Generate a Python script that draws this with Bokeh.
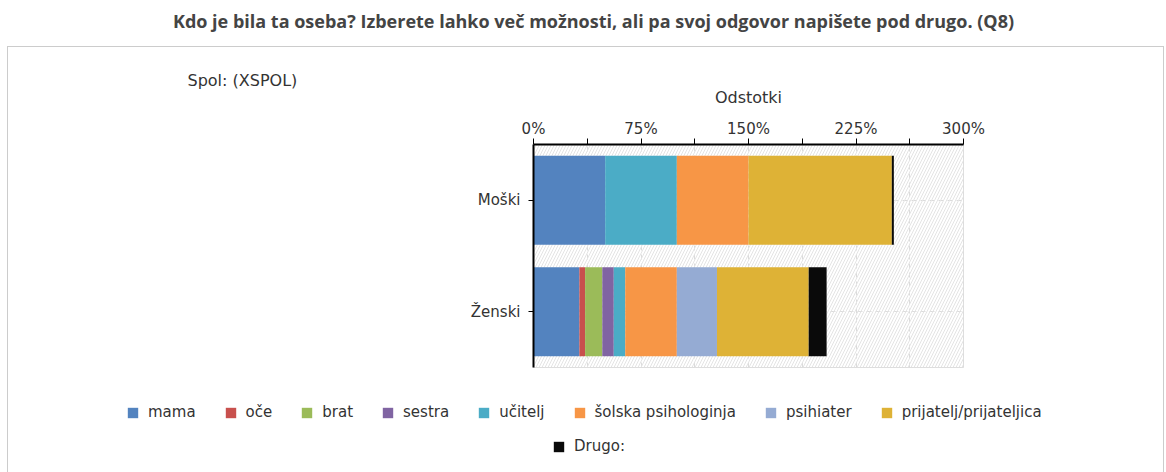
from bokeh.plotting import figure
from bokeh.layouts import column, row
from bokeh.models import (Range1d, FactorRange, FixedTicker, BoxAnnotation, Label,
                          Legend, LegendItem, ColumnDataSource, Spacer)
from bokeh.embed import file_html
from bokeh.resources import INLINE

# ---- data ----
title_text = "Kdo je bila ta oseba? Izberete lahko več možnosti, ali pa svoj odgovor napišete pod drugo. (Q8)"
group_label = "Spol: (XSPOL)"
axis_title = "Odstotki"
categories = ["Moški", "Ženski"]
series = ["mama", "oče", "brat", "sestra", "učitelj", "šolska psihologinja",
          "psihiater", "prijatelj/prijateljica", "Drugo:"]
mama = [50, 32]
oce = [0, 4]
brat = [0, 12]
sestra = [0, 8]
ucitelj = [50, 8]
solska = [50, 36]
psihiater = [0, 28]
prijatelj = [100, 64]
drugo = [1.4, 12.5]
x_ticks = [0, 75, 150, 225, 300]
x_minor = [37.5, 112.5, 187.5, 262.5]
tick_labels = ["0%", "75%", "150%", "225%", "300%"]
colors = ["#5383bf", "#c8504d", "#9bbb59", "#8064a2", "#4bacc6", "#f79646",
          "#95abd3", "#deb236", "#0a0a0a"]

keys = ["s%d" % i for i in range(len(series))]
values = [mama, oce, brat, sestra, ucitelj, solska, psihiater, prijatelj, drugo]
data = {"cat": categories}
for k, v in zip(keys, values):
    data[k] = v
src = ColumnDataSource(data)

FONT = "DejaVu Sans"
TXT = "#333333"

PAGE_W = 1166
TH = 46             # title strip height
BX = 7              # left offset of bordered box
BW, BH = 1157, 426  # bordered box size
LW = 426            # width of left text panel inside the box
TRH = 326           # height of the chart row inside the box
FL, FR, FT, FB = 533, 963, 144, 367  # plot frame in page px


def blank(width, height, x_range=None, y_range=None):
    f = figure(width=width, height=height, output_backend="svg", toolbar_location=None,
               x_range=x_range or Range1d(0, 1), y_range=y_range or Range1d(0, 1),
               x_axis_type=None, y_axis_type=None, min_border=0)
    f.outline_line_color = None
    f.border_fill_alpha = 0
    f.background_fill_alpha = 0
    return f


# ---- title strip ----
tfig = blank(PAGE_W, TH)
tfig.add_layout(Label(x=593, y=TH - 20, x_units="screen", y_units="screen",
                      text=title_text, text_font="Open Sans", text_font_style="bold",
                      text_font_size="18px", text_color="#444444",
                      text_align="center", text_baseline="middle"))

# ---- left text panel ----
lfig = blank(LW, TRH)
lfig.add_layout(Label(x=187 - BX, y=TRH - (80 - TH), x_units="screen", y_units="screen",
                      text=group_label, text_font=FONT, text_font_size="16px",
                      text_color=TXT, text_align="left", text_baseline="middle"))

# ---- main chart ----
PX = BX + LW  # page x of chart figure
p = figure(width=BW - LW, height=TRH, output_backend="svg", toolbar_location=None,
           x_range=Range1d(0, 300), y_range=FactorRange(factors=categories[::-1]),
           x_axis_location="above",
           min_border_left=FL - PX, min_border_right=(BW - LW) - (FR - PX),
           min_border_top=FT - TH, min_border_bottom=TRH - (FB - TH))
p.border_fill_alpha = 0
p.outline_line_color = "#dddddd"
p.background_fill_color = "white"

p.add_layout(BoxAnnotation(level="underlay", fill_alpha=0, line_alpha=0,
                           hatch_pattern="/", hatch_color="#e4e4e4",
                           hatch_scale=6, hatch_weight=1))

renderers = p.hbar_stack(keys, y="cat", height=0.8, color=colors, source=src,
                         line_color=None)

xa = p.xaxis[0]
xa.ticker = FixedTicker(ticks=x_ticks, minor_ticks=x_minor)
xa.major_label_overrides = {t: l for t, l in zip(x_ticks, tick_labels)}
xa.axis_label = axis_title
xa.axis_label_text_font = FONT
xa.axis_label_text_font_style = "normal"
xa.axis_label_text_font_size = "16px"
xa.axis_label_text_color = TXT
xa.axis_label_standoff = 10
xa.major_label_text_font = FONT
xa.major_label_text_font_size = "15px"
xa.major_label_text_color = TXT
xa.major_label_standoff = 1
xa.axis_line_color = "black"
xa.axis_line_width = 2
xa.major_tick_line_color = "black"
xa.minor_tick_line_color = "black"
xa.major_tick_in = 0
xa.major_tick_out = 6
xa.minor_tick_in = 0
xa.minor_tick_out = 6

ya = p.yaxis[0]
ya.axis_line_color = "black"
ya.axis_line_width = 2
ya.major_tick_in = 0
ya.major_tick_out = 5
ya.major_tick_line_color = "black"
ya.major_label_text_font = FONT
ya.major_label_text_font_size = "15px"
ya.major_label_text_color = TXT
ya.major_label_standoff = 8

p.xgrid.grid_line_color = "#dcdcdc"
p.xgrid.grid_line_dash = "5 4"
p.xgrid.minor_grid_line_color = "#dcdcdc"
p.xgrid.minor_grid_line_dash = "5 4"
p.ygrid.grid_line_color = "#dcdcdc"
p.ygrid.grid_line_dash = "5 4"

# ---- legend strip: same stacked series, kept off-view, used only for legend keys ----
LH = BH - TRH
gfig = blank(BW, LH, x_range=Range1d(-2, -1), y_range=FactorRange(factors=categories))
keys_r = gfig.hbar_stack(keys, y="cat", height=0.8, color=colors, source=src,
                         line_color=None)
items1 = [LegendItem(label=series[i], renderers=[keys_r[i]]) for i in range(8)]
items2 = [LegendItem(label=series[8], renderers=[keys_r[8]])]


def mk_legend(items, loc):
    return Legend(items=items, orientation="horizontal", location=loc,
                  glyph_width=13, glyph_height=13, label_standoff=9, spacing=28,
                  padding=0, margin=0, border_line_color=None, background_fill_alpha=0,
                  label_text_font=FONT, label_text_font_size="15px",
                  label_text_color=TXT, label_height=11)


ROW_Y = TH + TRH  # page y of legend strip top
gfig.add_layout(mk_legend(items1, (126 - BX, LH - (412 - ROW_Y) - 9)))
gfig.add_layout(mk_legend(items2, (552 - BX, LH - (446 - ROW_Y) - 9)))

box = column(row(column(lfig), p), gfig,
             styles={"box-shadow": "inset 1px 1px 0 #cccccc, inset -1px 0 0 #cccccc"})
layout = column(tfig, row(Spacer(width=BX, height=BH), box))
open("out.html", "w").write(file_html(layout, INLINE))
